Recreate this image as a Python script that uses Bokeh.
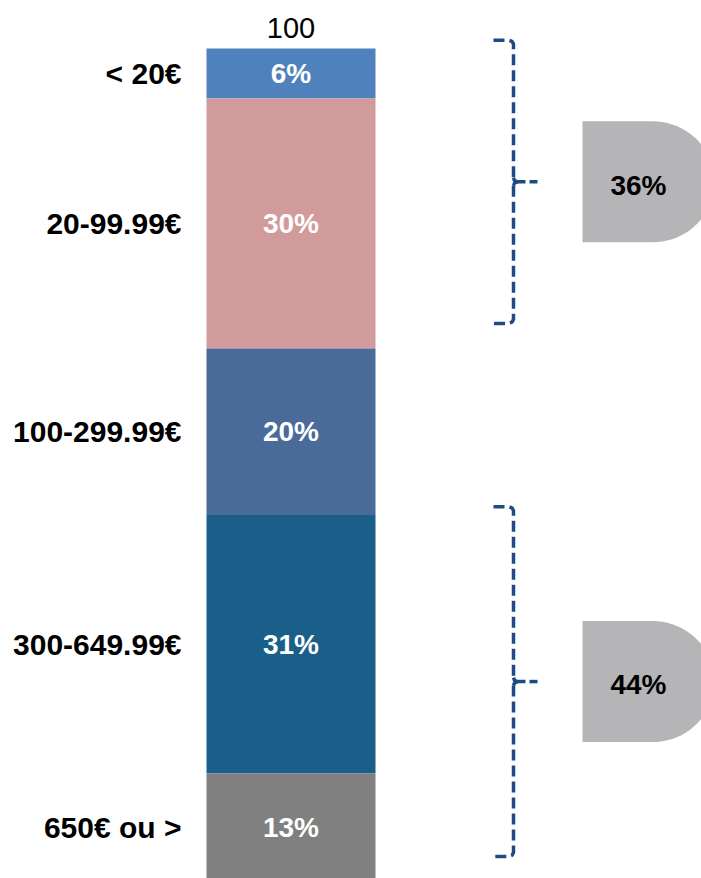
import numpy as np
from bokeh.plotting import figure
from bokeh.models import Range1d, ColumnDataSource
from bokeh.core.properties import value
from bokeh.embed import file_html
from bokeh.resources import INLINE

# ---- data ----
categories = ["< 20€", "20-99.99€", "100-299.99€", "300-649.99€", "650€ ou >"]
shares = [6, 30, 20, 31, 13]
colors = ["#4F81BD", "#D29B9B", "#4A6B99", "#195F8A", "#808080"]
total_label = "100"
groups = [[0, 1], [3, 4]]   # segments summarised by each brace

FONT = "Liberation Sans"

# ---- geometry helpers (page pixel -> value) ----
PX_PER = 8.33          # pixels per percentage point
TOP_PX = 48            # y of value 0
W, H = 701, 878

def v(py):
    return (py - TOP_PX) / PX_PER

p = figure(width=W, height=H, output_backend="svg", toolbar_location=None,
           x_range=Range1d(0, W), y_range=Range1d(v(H), v(0)),
           min_border=0)
p.axis.visible = False
p.grid.visible = False
p.outline_line_color = None
p.background_fill_color = "white"

cum = np.cumsum([0] + shares)
bottoms = cum[:-1]
tops = cum[1:]
mids = (bottoms + tops) / 2

src = ColumnDataSource(dict(top=list(bottoms), bottom=list(tops), color=colors,
                            mid=list(mids), lab=[f"{s}%" for s in shares],
                            cat=categories))
p.quad(left=206, right=375, top="top", bottom="bottom",
       fill_color="color", line_color=None, source=src)

p.text(x=290.5, y="mid", text="lab", source=src, text_color="white",
       text_font=value(FONT), text_font_style="bold", text_font_size="28px",
       text_align="center", text_baseline="middle")
p.text(x=181, y="mid", text="cat", source=src, text_color="black",
       text_font=value(FONT), text_font_style="bold", text_font_size="30px",
       text_align="right", text_baseline="middle")
p.text(x=[290.5], y=[v(27)], text=[total_label], text_color="black",
       text_font=value(FONT), text_font_size="29px",
       text_align="center", text_baseline="middle")

# ---- braces and summary badges ----
BRACE = "#1F4B85"
ry_c = 4 / PX_PER
for g in groups:
    start = cum[g[0]]
    end = cum[g[-1] + 1]
    total = sum(shares[i] for i in g)
    t = start - 1
    b = end - 3
    m = (t + b) / 2
    xs_ = [493, 508, 511.5, 513, 513]
    ys_ = [t, t, t + ry_c * 0.3, t + ry_c, m - ry_c]
    p.line(xs_, ys_, line_color=BRACE, line_width=3.5, line_dash="11 5")
    xs2 = [513, 513, 511.5, 508, 493]
    ys2 = [m + ry_c, b - ry_c, b - ry_c * 0.3, b, b]
    p.line(xs2, ys2, line_color=BRACE, line_width=3.5, line_dash="11 5")
    # middle tip
    p.line([513, 514, 517, 525], [m - ry_c, m - ry_c * 0.3, m, m],
           line_color=BRACE, line_width=3.5)
    p.line([513, 514, 517], [m + ry_c, m + ry_c * 0.3, m],
           line_color=BRACE, line_width=3.5)
    p.line([529, 537], [m, m], line_color=BRACE, line_width=3.5)

    # D-shaped badge
    ry = 60.5 / PX_PER
    rx = 62
    ang = np.linspace(np.pi / 2, -np.pi / 2, 40)
    px = [582, 652] + list(652 + rx * np.cos(ang)) + [652, 582]
    py = [m - ry, m - ry] + list(m - ry * np.sin(ang)) + [m + ry, m + ry]
    p.patch(px, py, fill_color="#B5B5B8", line_color=None)
    p.text(x=[638], y=[m + 0.4], text=[f"{total}%"], text_color="black",
           text_font=value(FONT), text_font_style="bold", text_font_size="28px",
           text_align="center", text_baseline="middle")

open("out.html", "w").write(file_html(p, INLINE))
